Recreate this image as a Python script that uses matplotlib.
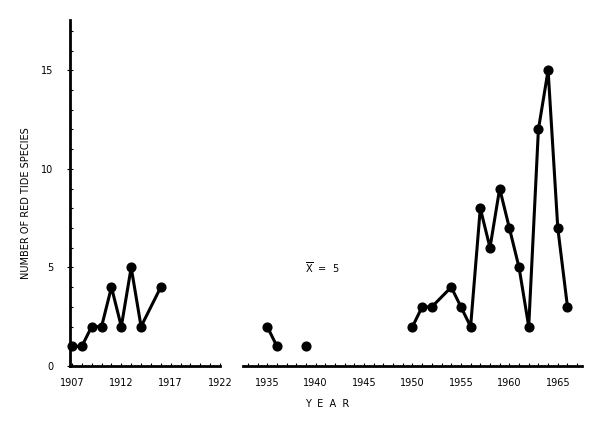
import matplotlib
matplotlib.use("Agg")
import matplotlib.pyplot as plt
from matplotlib.ticker import MultipleLocator

plt.rcParams['font.family'] = ['DejaVu Sans']
plt.rcParams['mathtext.fontset'] = 'dejavusans'

# ---- data ----
early_years = [1907, 1908, 1909, 1910, 1911, 1912, 1913, 1914, 1916]
early_vals = [1, 1, 2, 2, 4, 2, 5, 2, 4]

mid_years = [1935, 1936]
mid_vals = [2, 1]

single_years = [1939]
single_vals = [1]

late_years = [1950, 1951, 1952, 1954, 1955, 1956, 1957, 1958, 1959, 1960,
              1961, 1962, 1963, 1964, 1965, 1966]
late_vals = [2, 3, 3, 4, 3, 2, 8, 6, 9, 7, 5, 2, 12, 15, 7, 3]

left_ticks = [1907, 1912, 1917, 1922]
right_ticks = [1935, 1940, 1945, 1950, 1955, 1960, 1965]
y_ticks = [0, 5, 10, 15]
mean_label = r'$\overline{\mathrm{X}}$  =  5'

# ---- figure ----
fig = plt.figure(figsize=(6.0, 4.22), dpi=100)
W, H = 600.0, 422.0
bottom = (H - 366) / H
height = (366 - 20) / H
ax1 = fig.add_axes([70 / W, bottom, 150 / W, height])
ax2 = fig.add_axes([243 / W, bottom, 339 / W, height])

line_kw = dict(color='black', lw=2.2, marker='o', ms=6.3, mew=1.0,
               clip_on=False, zorder=3)

ax1.plot(early_years, early_vals, **line_kw)
ax2.plot(mid_years, mid_vals, **line_kw)
ax2.plot(single_years, single_vals, **line_kw)
ax2.plot(late_years, late_vals, **line_kw)

ymax = 17.55
ax1.set_xlim(1906.8, 1922.0)
ax2.set_xlim(1932.5, 1967.5)
for ax in (ax1, ax2):
    ax.set_ylim(0, ymax)
    ax.spines['top'].set_visible(False)
    ax.spines['right'].set_visible(False)
    ax.spines['bottom'].set_linewidth(2.0)
    ax.xaxis.set_minor_locator(MultipleLocator(1))
    ax.tick_params(axis='x', which='both', direction='in', length=2, width=0.8,
                   labelsize=7, pad=9)
    ax.set_facecolor('none')

ax1.set_xticks(left_ticks)
ax1.set_xticklabels([str(t) for t in left_ticks])
ax2.set_xticks(right_ticks)
ax2.set_xticklabels([str(t) for t in right_ticks])

ax1.spines['left'].set_linewidth(2.0)
ax1.set_yticks(y_ticks)
ax1.yaxis.set_minor_locator(MultipleLocator(1))
ax1.tick_params(axis='y', which='major', direction='inout', length=4, width=0.8,
                labelsize=7, pad=10)
ax1.tick_params(axis='y', which='minor', direction='in', length=2, width=0.8)

ax2.spines['left'].set_visible(False)
ax2.tick_params(axis='y', which='both', left=False, labelleft=False)

ax2.text(1940.7, 5, mean_label, fontsize=7, ha='center', va='center')

fig.text(327 / W, (H - 404) / H, 'Y  E  A  R', fontsize=7, ha='center', va='center')
fig.text(26 / W, (H - 203) / H, 'NUMBER OF RED TIDE SPECIES', fontsize=7,
         rotation=90, ha='center', va='center')

fig.savefig('out.png', dpi=100)
